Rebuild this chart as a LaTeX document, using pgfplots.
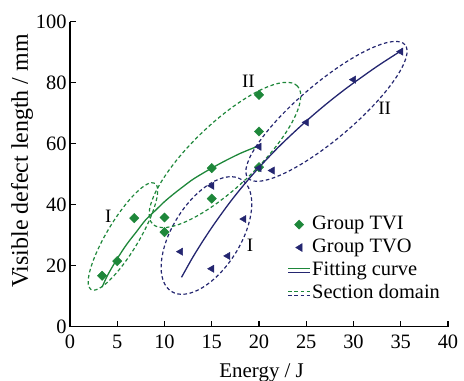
\documentclass[border=0pt]{standalone}
\usepackage{fontspec}
\setmainfont{Liberation Serif}
\usepackage{pgfplots}
\pgfplotsset{compat=1.18}
\definecolor{tvig}{RGB}{30,135,58}
\definecolor{tvo}{RGB}{36,38,112}
\tikzset{sect/.style={line width=1.2bp, dash pattern=on 3.6bp off 2.6bp}}
\begin{document}
\begin{tikzpicture}
\begin{axis}[
 name=ax, scale only axis, width=378bp, height=305bp,
 xmin=0, xmax=40, ymin=0, ymax=100,
 axis lines*=left, axis line style={-, line width=1.3bp},
 xtick={0,5,...,40}, ytick={0,20,...,100},
 tick align=inside, major tick length=6bp, tick style={line width=1.2bp, black},
 /pgf/number format/assume math mode=true,
 ticklabel style={font=\fontsize{20.5}{22}\selectfont},
 xticklabel style={yshift=-5bp},
 xlabel={Energy / J}, ylabel={Visible defect length / mm},
 xlabel style={font=\fontsize{21}{24}\selectfont, at={(axis description cs:0.507,-0.152)}, anchor=center},
 ylabel style={font=\fontsize{24}{26}\selectfont, at={(axis description cs:-0.127,0.543)}, anchor=center},
 clip=false,
 legend cell align=left,
 legend style={at={(axis description cs:0.575,0.37)}, anchor=north west, draw=none, fill=none,
   font=\fontsize{20.5}{22}\selectfont, row sep=2bp, inner sep=0pt,
   nodes={inner sep=1.5bp, text height=14bp, text depth=4bp}},
]
% section domains
\draw[tvig, sect, rotate around={59:(axis cs:5.6,29.6)}] (axis cs:5.6,29.6) ellipse [x radius=62bp, y radius=16bp];
\draw[tvo, sect, rotate around={58:(axis cs:14.44,29.9)}] (axis cs:14.44,29.9) ellipse [x radius=66bp, y radius=34bp];
\draw[tvig, sect, rotate around={43.5:(axis cs:16.4,56.3)}] (axis cs:16.4,56.3) ellipse [x radius=100bp, y radius=32bp];
\draw[tvo, sect, rotate around={40.3:(axis cs:27.14,70.6)}] (axis cs:27.14,70.6) ellipse [x radius=103bp, y radius=28bp];
% fitting curves
\addplot[forget plot, tvig, line width=1.3bp, smooth] coordinates {
(3.4,13) (4,17) (5,22.3) (6,27) (7,31) (8,35) (9,38) (10,41) (11,43.6) (12,46) (13,48.3)
(14,50.2) (15,52) (16,53.7) (17,55.3) (18,56.8) (19,58.1) (20,59.3)};
\addplot[forget plot, tvo, line width=1.3bp, smooth] coordinates {
(11.8,16.2) (12,17.3) (13,22.8) (14,27.8) (15,32.5) (16,36.9) (17,41.1) (18,45) (19,48.7)
(20,52.2) (21,55.5) (22,58.7) (23,61.7) (24,64.6) (25,67.4) (26,70.1) (27,72.7) (28,75.2)
(29,77.6) (30,79.9) (31,82.1) (32,84.3) (33,86.4) (34,88.4) (35,90.4)};
% data points
\addplot[forget plot, only marks, mark=square*, mark size=3.3bp, mark options={rotate=45, fill=tvig, draw=tvig}] coordinates {
(3.4,16.7) (5,21.5) (6.8,35.6) (10,35.8) (10,31) (15,52) (15,42) (20,76) (20,64) (20,52.3)};
\addplot[forget plot, only marks, mark=triangle*, mark size=4.2bp, mark options={rotate=90, fill=tvo, draw=tvo}] coordinates {
(11.7,24.6) (15,19) (16.7,23.2) (18.4,35.3) (15,46.2) (20,59) (20,52) (21.4,51.2) (25,67) (30,81) (35,90.2)};
% domain labels
\node[font=\fontsize{19}{21}\selectfont] at (axis cs:4.05,36.1) {I};
\node[font=\fontsize{19}{21}\selectfont] at (axis cs:19.05,26.8) {I};
\node[font=\fontsize{19}{21}\selectfont] at (axis cs:18.87,80.3) {II};
\node[font=\fontsize{19}{21}\selectfont] at (axis cs:33.3,71.6) {II};
% legend
\addlegendimage{legend image code/.code={\fill[tvig] (6.4bp,0)--(11bp,4.6bp)--(15.6bp,0)--(11bp,-4.6bp)--cycle;}}
\addlegendentry{Group TVI}
\addlegendimage{legend image code/.code={\fill[tvo] (7.5bp,0)--(14bp,4bp)--(14bp,-4bp)--cycle;}}
\addlegendentry{Group TVO}
\addlegendimage{legend image code/.code={\draw[tvig,line width=1.2bp] (0,2.2bp)--(22bp,2.2bp); \draw[tvo,line width=1.2bp] (0,-2.2bp)--(22bp,-2.2bp);}}
\addlegendentry{Fitting curve}
\addlegendimage{legend image code/.code={\draw[tvig,sect] (0,2.2bp)--(22bp,2.2bp); \draw[tvo,sect] (0,-2.2bp)--(22bp,-2.2bp);}}
\addlegendentry{Section domain}
\end{axis}
\pgfresetboundingbox
\path ([shift={(-70bp,-54.3bp)}]ax.south west) rectangle ([shift={(16bp,21.7bp)}]ax.north east);
\end{tikzpicture}
\end{document}
